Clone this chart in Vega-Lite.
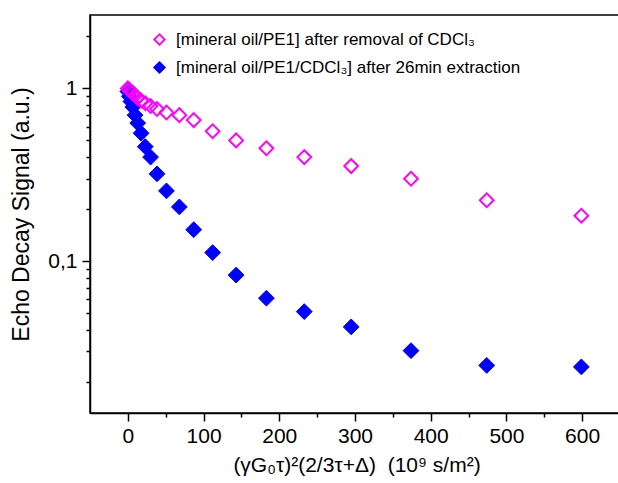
{
  "$schema": "https://vega.github.io/schema/vega-lite/v6.json",
  "width": 533,
  "height": 398,
  "autosize": {"type": "none"},
  "padding": {"left": 90, "top": 15, "right": 0, "bottom": 70},
  "background": "white",
  "config": {
    "font": "Liberation Sans",
    "view": {"stroke": "black", "strokeWidth": 1.5},
    "axis": {
      "grid": false,
      "domainColor": "black",
      "domainWidth": 1.5,
      "tickColor": "black",
      "tickWidth": 1.5,
      "labelColor": "black",
      "titleColor": "black",
      "labelFont": "Liberation Sans",
      "titleFont": "Liberation Sans",
      "titleFontWeight": "normal"
    },
    "legend": {"labelFont": "Liberation Sans"}
  },
  "data": {
    "values": [
      {"series": "B", "x": 0, "v": 0.96},
      {"series": "B", "x": 2, "v": 0.9},
      {"series": "B", "x": 4, "v": 0.84},
      {"series": "B", "x": 6.5, "v": 0.78},
      {"series": "B", "x": 9.5, "v": 0.7},
      {"series": "B", "x": 13, "v": 0.63},
      {"series": "B", "x": 17.5, "v": 0.55},
      {"series": "B", "x": 23, "v": 0.46},
      {"series": "B", "x": 30, "v": 0.4},
      {"series": "B", "x": 38.5, "v": 0.32},
      {"series": "B", "x": 51, "v": 0.255},
      {"series": "B", "x": 68, "v": 0.206},
      {"series": "B", "x": 87, "v": 0.152},
      {"series": "B", "x": 112, "v": 0.112},
      {"series": "B", "x": 143, "v": 0.083},
      {"series": "B", "x": 183, "v": 0.061},
      {"series": "B", "x": 233, "v": 0.051},
      {"series": "B", "x": 295, "v": 0.0416},
      {"series": "B", "x": 374, "v": 0.0303},
      {"series": "B", "x": 474, "v": 0.0249},
      {"series": "B", "x": 599, "v": 0.0244},
      {"series": "A", "x": 0, "v": 1.0},
      {"series": "A", "x": 2, "v": 0.98},
      {"series": "A", "x": 4, "v": 0.96},
      {"series": "A", "x": 6.5, "v": 0.94},
      {"series": "A", "x": 9.5, "v": 0.91},
      {"series": "A", "x": 13, "v": 0.88},
      {"series": "A", "x": 17.5, "v": 0.85},
      {"series": "A", "x": 23, "v": 0.82},
      {"series": "A", "x": 30, "v": 0.79},
      {"series": "A", "x": 38.5, "v": 0.76},
      {"series": "A", "x": 51, "v": 0.725},
      {"series": "A", "x": 68, "v": 0.7},
      {"series": "A", "x": 87, "v": 0.655},
      {"series": "A", "x": 112, "v": 0.565},
      {"series": "A", "x": 143, "v": 0.5},
      {"series": "A", "x": 183, "v": 0.45},
      {"series": "A", "x": 233, "v": 0.4},
      {"series": "A", "x": 295, "v": 0.355},
      {"series": "A", "x": 374, "v": 0.3},
      {"series": "A", "x": 474, "v": 0.225},
      {"series": "A", "x": 599, "v": 0.183}
    ]
  },
  "encoding": {
    "x": {
      "field": "x",
      "type": "quantitative",
      "scale": {"domain": [-50, 654], "nice": false, "zero": false},
      "axis": {
        "values": [0, 50, 100, 150, 200, 250, 300, 350, 400, 450, 500, 550, 600],
        "labelExpr": "datum.value % 100 == 0 ? datum.label : ''",
        "tickSize": {"condition": {"test": "datum.value % 100 == 0", "value": 8}, "value": 4},
        "labelFontSize": 21,
        "labelPadding": 4,
        "title": "(γG₀τ)²(2/3τ+Δ)\u00a0\u00a0(10⁹ s/m²)",
        "titleFontSize": 21,
        "titlePadding": 8
      }
    },
    "y": {
      "field": "v",
      "type": "quantitative",
      "scale": {"type": "log", "domain": [0.0132, 2.66], "nice": false},
      "axis": {
        "values": [2, 1, 0.9, 0.8, 0.7, 0.6, 0.5, 0.4, 0.3, 0.2, 0.1, 0.09, 0.08, 0.07, 0.06, 0.05, 0.04, 0.03, 0.02],
        "labelExpr": "datum.value == 1 ? '1' : (abs(datum.value - 0.1) < 1e-9 ? '0,1' : '')",
        "tickSize": {"condition": {"test": "datum.value == 1 || abs(datum.value - 0.1) < 1e-9", "value": 8}, "value": 4},
        "labelFontSize": 21,
        "labelPadding": 5,
        "title": "Echo Decay Signal (a.u.)",
        "titleFontSize": 23,
        "titlePadding": 14
      }
    },
    "stroke": {
      "field": "series",
      "type": "nominal",
      "scale": {"domain": ["A", "B"], "range": ["#ff00ff", "#0000ff"]},
      "legend": {
        "orient": "none",
        "legendX": 61,
        "legendY": 16,
        "title": null,
        "padding": 0,
        "labelFontSize": 17,
        "labelOffset": 8,
        "labelLimit": 0,
        "symbolSize": 110,
        "symbolStrokeWidth": 1.8,
        "rowPadding": 9,
        "labelExpr": "datum.label == 'A' ? '[mineral oil/PE1] after removal of CDCl₃' : '[mineral oil/PE1/CDCl₃] after 26min extraction'"
      }
    },
    "fill": {
      "field": "series",
      "type": "nominal",
      "scale": {"domain": ["A", "B"], "range": ["transparent", "#0000ff"]}
    },
    "shape": {
      "field": "series",
      "type": "nominal",
      "scale": {"domain": ["A", "B"], "range": ["diamond", "diamond"]}
    }
  },
  "layer": [
    {
      "transform": [{"filter": "datum.series == 'B'"}],
      "mark": {"type": "point", "size": 250, "strokeWidth": 1, "opacity": 1}
    },
    {
      "transform": [{"filter": "datum.series == 'A'"}],
      "mark": {"type": "point", "size": 190, "strokeWidth": 2, "opacity": 1}
    }
  ]
}
